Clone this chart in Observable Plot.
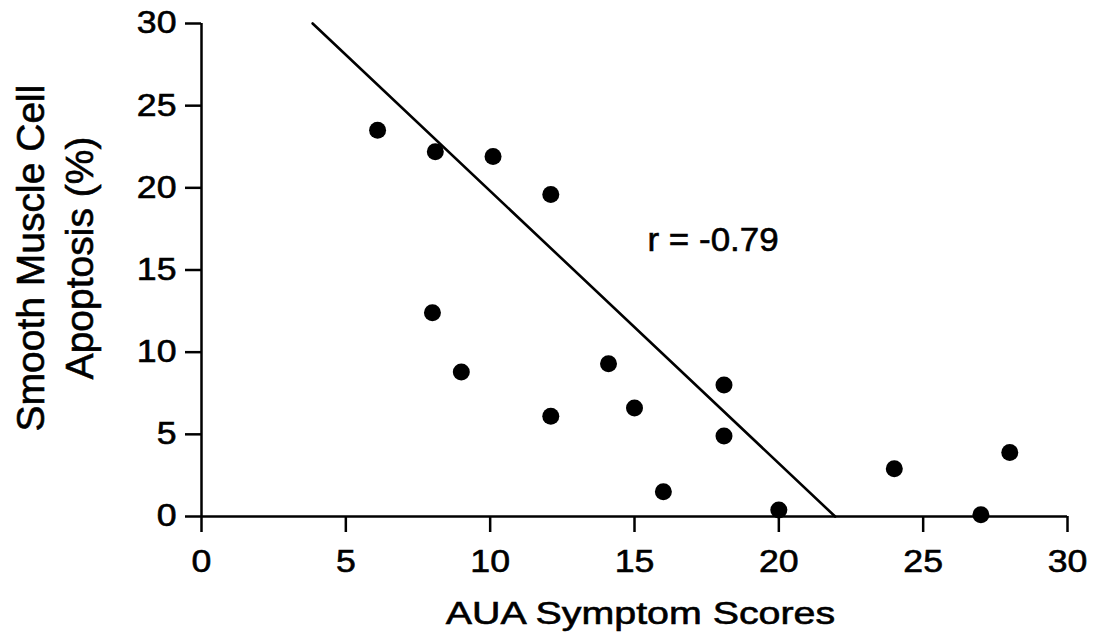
<!DOCTYPE html>
<html><head><meta charset="utf-8">
<script src="https://cdn.jsdelivr.net/npm/d3@7"></script>
<script src="https://cdn.jsdelivr.net/npm/@observablehq/plot@0.6"></script>
<style>body{margin:0;background:#fff}</style>
</head><body><div id="chart"></div>
<script>
// Data
const auaScores = [6.1, 8.1, 10.1, 12.1, 8.0, 9.0, 12.1, 14.1, 15.0, 16.0, 18.1, 18.1, 20.0, 24.0, 27.0, 28.0];
const apoptosisPct = [23.5, 22.2, 21.9, 19.6, 12.4, 8.8, 6.1, 9.3, 6.6, 1.5, 8.0, 4.9, 0.4, 2.9, 0.1, 3.9];
const fitLineX = [3.85, 21.95];
const fitLineY = [30, 0];
const xTicks = [0, 5, 10, 15, 20, 25, 30];
const yTicks = [0, 5, 10, 15, 20, 25, 30];
const xLabel = "AUA Symptom Scores";
const yLabelLines = ["Smooth Muscle Cell", "Apoptosis (%)"];
const annotationText = "r = -0.79";

const points = auaScores.map((x, i) => ({x, y: apoptosisPct[i]}));
const fit = fitLineX.map((x, i) => ({x, y: fitLineY[i]}));

const FONT = "'Liberation Sans', Arial, Helvetica, sans-serif";

const chart = Plot.plot({
  width: 1099,
  height: 643,
  marginLeft: 201,
  marginRight: 32,
  marginTop: 23,
  marginBottom: 127,
  style: {fontFamily: FONT, background: "#fff", color: "#000", overflow: "visible"},
  x: {domain: [0, 30]},
  y: {domain: [0, 30]},
  marks: [
    Plot.axisX({ticks: xTicks, tickSize: 16, tickPadding: 17, fontSize: 31, strokeWidth: 2.5, label: null, stroke: "#000", fill: "#000"}),
    Plot.axisY({ticks: yTicks, tickSize: 16, tickPadding: 9, fontSize: 31, strokeWidth: 2.5, label: null, stroke: "#000", fill: "#000"}),
    Plot.ruleX([0], {stroke: "#000", strokeWidth: 2.5}),
    Plot.ruleY([0], {stroke: "#000", strokeWidth: 2.5}),
    Plot.line(fit, {x: "x", y: "y", stroke: "#000", strokeWidth: 2.6}),
    Plot.dot(points, {x: "x", y: "y", r: 8.5, fill: "#000", stroke: null}),
    Plot.text([annotationText], {x: 15.45, y: 16.8, text: d => d, textAnchor: "start", lineAnchor: "middle", fontSize: 33, fill: "#000"}),
    Plot.text([xLabel], {frameAnchor: "bottom", text: d => d, textAnchor: "middle", dx: 6, dy: 97, lineAnchor: "middle", fontSize: 32, fill: "#000"}),
    Plot.text([yLabelLines.join("\n")], {frameAnchor: "left", text: d => d, rotate: -90, textAnchor: "middle", dx: -149, dy: -12, lineAnchor: "middle", lineHeight: 1.27, fontSize: 39, fill: "#000"})
  ]
});
document.getElementById("chart").append(chart);

function stretchText(t, k) {
  const L = t.getComputedTextLength();
  t.setAttribute("textLength", L * k);
  t.setAttribute("lengthAdjust", "spacingAndGlyphs");
}
chart.querySelectorAll('g[aria-label="x-axis tick label"] text, g[aria-label="y-axis tick label"] text').forEach(t => stretchText(t, 1.15));
chart.querySelectorAll("text").forEach(t => {
  if (t.textContent === xLabel) stretchText(t, 1.23);
  if (t.textContent === annotationText) stretchText(t, 1.06);
  t.style.stroke = "#000";
  t.style.strokeWidth = "0.6px";
});
</script>
</body></html>
